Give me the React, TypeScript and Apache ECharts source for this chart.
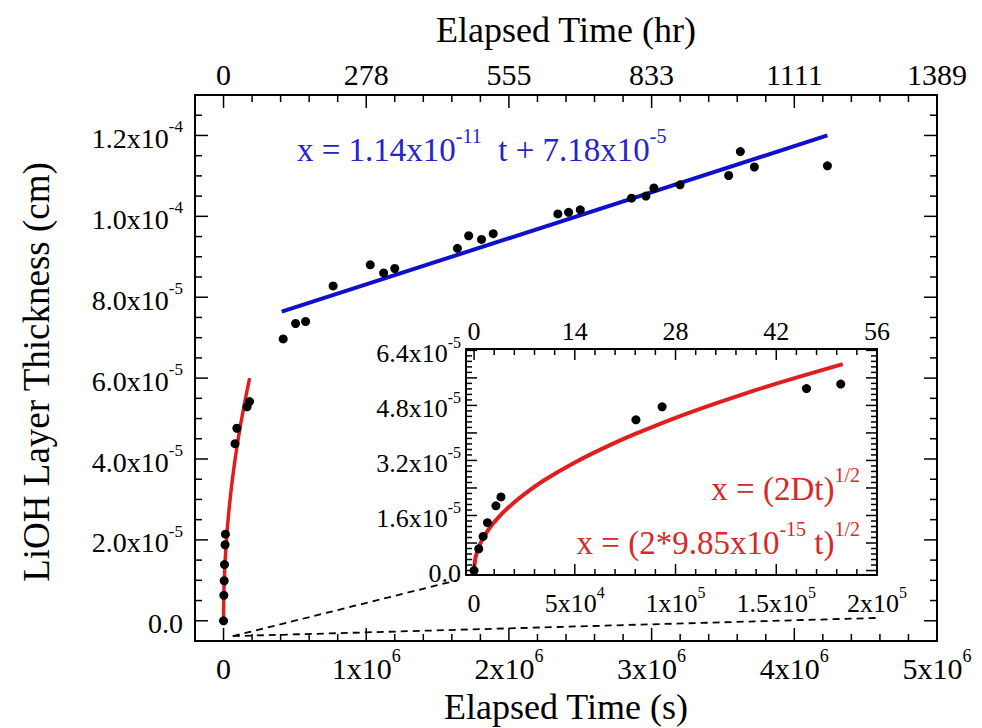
import React, { useEffect, useRef } from 'react';
import * as echarts from 'echarts';

// ---------- data ----------
// early-stage measurements (time in s, thickness in cm) – shown in main plot and inset
const earlyTime = [0, 2350, 4500, 6650, 10850, 13350, 80350, 93350, 165000, 182000];
const earlyThick = [0, 0.63e-5, 0.99e-5, 1.39e-5, 1.88e-5, 2.14e-5, 4.38e-5, 4.76e-5, 5.29e-5, 5.42e-5];
// later measurements
const lateTime = [0.418e6, 0.505e6, 0.575e6, 0.768e6, 1.028e6, 1.122e6, 1.2e6, 1.639e6, 1.718e6, 1.808e6, 1.89e6,
  2.343e6, 2.418e6, 2.5e6, 2.859e6, 2.96e6, 3.016e6, 3.199e6, 3.54e6, 3.622e6, 3.72e6, 4.232e6];
const lateThick = [6.97e-5, 7.35e-5, 7.40e-5, 8.28e-5, 8.80e-5, 8.60e-5, 8.71e-5, 9.21e-5, 9.52e-5, 9.43e-5, 9.57e-5,
  10.06e-5, 10.10e-5, 10.16e-5, 10.45e-5, 10.50e-5, 10.70e-5, 10.78e-5, 11.01e-5, 11.60e-5, 11.22e-5, 11.25e-5];
// parabolic (diffusion) fit curve
const fitTime = [0, 500, 1500, 3000, 5000, 8000, 12000, 17000, 25000, 35000, 50000, 65000, 80000, 100000, 120000, 140000, 160000, 183000];
const fitThick = [0, 0.31e-5, 0.54e-5, 0.77e-5, 0.99e-5, 1.26e-5, 1.54e-5, 1.83e-5, 2.22e-5, 2.63e-5, 3.14e-5, 3.58e-5,
  3.97e-5, 4.44e-5, 4.86e-5, 5.25e-5, 5.61e-5, 6.0e-5];
// linear fit
const linTime = [408000, 4232000];
const linThick = [7.645e-5, 12.0e-5];
// dashed zoom-indicator lines (main-plot coordinates)
const zoomATime = [65000, 1636000];
const zoomAThick = [-0.38e-5, 1.0e-5];
const zoomBTime = [65000, 4580000];
const zoomBThick = [-0.38e-5, 0.07e-5];

// ---------- ticks ----------
const mainXMajor = [0, 1e6, 2e6, 3e6, 4e6, 5e6];
const mainXLabels = ['0', '1x10^6', '2x10^6', '3x10^6', '4x10^6', '5x10^6'];
const mainXTopLabels = ['0', '278', '555', '833', '1111', '1389'];
const mainYMajor = [0, 2e-5, 4e-5, 6e-5, 8e-5, 1.0e-4, 1.2e-4];
const mainYLabels = ['0.0', '2.0x10^-5', '4.0x10^-5', '6.0x10^-5', '8.0x10^-5', '1.0x10^-4', '1.2x10^-4'];
const insetXMajor = [0, 5e4, 1e5, 1.5e5, 2e5];
const insetXLabels = ['0', '5x10^4', '1x10^5', '1.5x10^5', '2x10^5'];
const insetXTopLabels = ['0', '14', '28', '42', '56'];
const insetYMajor = [0, 0.8e-5, 1.6e-5, 2.4e-5, 3.2e-5, 4.0e-5, 4.8e-5, 5.6e-5, 6.4e-5];
const insetYLabelVals = [0, 1.6e-5, 3.2e-5, 4.8e-5, 6.4e-5];
const insetYLabels = ['0.0', '1.6x10^-5', '3.2x10^-5', '4.8x10^-5', '6.4x10^-5'];

const FONT = '"Liberation Serif", "DejaVu Serif", "Times New Roman", serif';

function minorTicks(start: number, end: number, step: number, majors: number[]) {
  const out: number[] = [];
  const n = Math.round((end - start) / step);
  for (let k = 0; k <= n; k++) {
    const v = start + k * step;
    if (!majors.some((m) => Math.abs(m - v) < step * 1e-3)) out.push(v);
  }
  return out;
}

function toRich(s: string) {
  const i = s.indexOf('^');
  if (i < 0) return `{b|${s}}`;
  return `{b|${s.slice(0, i)}}{s|${s.slice(i + 1)}}`;
}

function labelFor(vals: number[], labels: string[], v: number, rich: boolean) {
  let best = 0;
  for (let i = 1; i < vals.length; i++) if (Math.abs(vals[i] - v) < Math.abs(vals[best] - v)) best = i;
  return rich ? toRich(labels[best]) : labels[best];
}

function makeRich(size: number, supSize: number) {
  return {
    b: { fontSize: size, fontFamily: FONT, color: '#000', lineHeight: size + 6, verticalAlign: 'bottom' },
    s: { fontSize: supSize, fontFamily: FONT, color: '#000', lineHeight: supSize, verticalAlign: 'top' },
  };
}

type AxOpts = {
  grid: number; pos: string; min: number; max: number; z: number;
  labels?: { vals: number[]; texts: string[]; rich: boolean; size: number; sup: number; margin: number };
};

function axis(o: AxOpts) {
  const a: any = {
    type: 'value', gridIndex: o.grid, position: o.pos, min: o.min, max: o.max,
    splitLine: { show: false },
    axisLine: { show: true, onZero: false, lineStyle: { color: '#000', width: 2 } },
    axisTick: { show: false },
    axisLabel: { show: false },
    z: o.z,
  };
  if (o.labels) {
    const L = o.labels;
    a.axisLabel = {
      show: true, customValues: L.vals, margin: L.margin, color: '#000',
      fontFamily: FONT, fontSize: L.size,
      formatter: (v: number) => labelFor(L.vals, L.texts, v, L.rich),
      rich: makeRich(L.size, L.sup),
    };
  }
  return a;
}

const zip = (a: number[], b: number[]) => a.map((v, i) => [v, b[i]]);

export default function App() {
  const ref = useRef<HTMLDivElement>(null);
  useEffect(() => {
    document.body.style.margin = '0';
    const chart = echarts.init(ref.current!, null, { renderer: 'svg' });

    const MX = [-2e5, 5e6];
    const MY = [-0.5e-5, 1.3e-4];
    const IX = [-4000, 2e5];
    const IY = [-0.13e-5, 6.44e-5];
    const mxMinor = minorTicks(-2e5, 5e6, 2e5, mainXMajor);
    const myMinor = minorTicks(-0.5e-5, 1.3e-4, 0.5e-5, mainYMajor);
    const ixMinor = minorTicks(0, 2e5, 1e4, insetXMajor);
    const iyMinor = minorTicks(0, 6.4e-5, 0.16e-5, insetYMajor);

    const xAxes = [
      axis({ grid: 0, pos: 'bottom', min: MX[0], max: MX[1], z: 1,
        labels: { vals: mainXMajor, texts: mainXLabels, rich: true, size: 30, sup: 18, margin: 6 } }),
      axis({ grid: 0, pos: 'top', min: MX[0], max: MX[1], z: 1,
        labels: { vals: mainXMajor, texts: mainXTopLabels, rich: false, size: 30, sup: 18, margin: 6 } }),
      axis({ grid: 1, pos: 'bottom', min: IX[0], max: IX[1], z: 6,
        labels: { vals: insetXMajor, texts: insetXLabels, rich: true, size: 26, sup: 16, margin: 9 } }),
      axis({ grid: 1, pos: 'top', min: IX[0], max: IX[1], z: 6,
        labels: { vals: insetXMajor, texts: insetXTopLabels, rich: false, size: 26, sup: 16, margin: 5 } }),
    ];
    const yAxes = [
      axis({ grid: 0, pos: 'left', min: MY[0], max: MY[1], z: 1,
        labels: { vals: mainYMajor, texts: mainYLabels, rich: true, size: 28, sup: 17, margin: 12 } }),
      axis({ grid: 0, pos: 'right', min: MY[0], max: MY[1], z: 1 }),
      axis({ grid: 1, pos: 'left', min: IY[0], max: IY[1], z: 6,
        labels: { vals: insetYLabelVals, texts: insetYLabels, rich: true, size: 26, sup: 16, margin: 5 } }),
      axis({ grid: 1, pos: 'right', min: IY[0], max: IY[1], z: 6 }),
    ];

    const red = '#e01e1e';
    const blue = '#1010cc';
    const dot = { symbol: 'circle', symbolSize: 9, itemStyle: { color: '#000', opacity: 1 } };

    const eqRich = (size: number, sup: number, color: string) => ({
      b: { fontSize: size, fontFamily: FONT, fill: color, lineHeight: size + 8, verticalAlign: 'bottom' },
      s: { fontSize: sup, fontFamily: FONT, fill: color, lineHeight: sup, verticalAlign: 'top' },
    });

    const texts: any[] = [
      { type: 'text', x: 566, y: 30, style: { text: 'Elapsed Time (hr)', font: `36px ${FONT}`, fill: '#000', textAlign: 'center', textVerticalAlign: 'middle' } },
      { type: 'text', x: 566, y: 707, style: { text: 'Elapsed Time (s)', font: `36px ${FONT}`, fill: '#000', textAlign: 'center', textVerticalAlign: 'middle' } },
      { type: 'text', x: 36, y: 372, rotation: Math.PI / 2, style: { text: 'LiOH Layer Thickness (cm)', font: `37px ${FONT}`, fill: '#000', textAlign: 'center', textVerticalAlign: 'middle' } },
      { type: 'text', x: 297, y: 146, z: 10, style: { text: '{b|x = 1.14x10}{s|-11}{b|  t + 7.18x10}{s|-5}', rich: eqRich(33, 20, '#2424cc'), textAlign: 'left', textVerticalAlign: 'middle' } },
      { type: 'text', x: 860, y: 485, z: 10, style: { text: '{b|x = (2Dt)}{s|1/2}', rich: eqRich(33, 20, '#d82828'), textAlign: 'right', textVerticalAlign: 'middle' } },
      { type: 'text', x: 860, y: 539, z: 10, style: { text: '{b|x = (2*9.85x10}{s|-15}{b| t)}{s|1/2}', rich: eqRich(33, 20, '#d82828'), textAlign: 'right', textVerticalAlign: 'middle' } },
    ];

    chart.setOption({
      animation: false,
      backgroundColor: '#fff',
      grid: [
        { left: 195, top: 95, width: 742, height: 546, show: false },
        { left: 466, top: 349, width: 411, height: 226, show: true, borderWidth: 0, borderColor: 'transparent', backgroundColor: '#fff', z: 3 },
      ],
      xAxis: xAxes,
      yAxis: yAxes,
      series: [
        { type: 'line', xAxisIndex: 0, yAxisIndex: 0, data: zip(zoomATime, zoomAThick), symbol: 'none',
          lineStyle: { color: '#000', width: 1.8, type: [7, 5] }, z: 2 },
        { type: 'line', xAxisIndex: 0, yAxisIndex: 0, data: zip(zoomBTime, zoomBThick), symbol: 'none',
          lineStyle: { color: '#000', width: 1.8, type: [7, 5] }, z: 2 },
        { type: 'line', xAxisIndex: 0, yAxisIndex: 0, data: zip(fitTime, fitThick), symbol: 'none',
          lineStyle: { color: red, width: 3.5 }, z: 3 },
        { type: 'line', xAxisIndex: 0, yAxisIndex: 0, data: zip(linTime, linThick), symbol: 'none',
          lineStyle: { color: blue, width: 4 }, z: 3 },
        { type: 'scatter', xAxisIndex: 0, yAxisIndex: 0, data: zip(earlyTime, earlyThick).concat(zip(lateTime, lateThick)), ...dot, z: 4 },
        { type: 'line', xAxisIndex: 2, yAxisIndex: 2, data: zip(fitTime, fitThick), symbol: 'none', smooth: 0.2,
          lineStyle: { color: red, width: 4 }, z: 7 },
        { type: 'scatter', xAxisIndex: 2, yAxisIndex: 2, data: zip(earlyTime, earlyThick), ...dot, z: 8 },
      ],
      graphic: texts,
    });

    // tick marks placed through the axes' own scales (convertToPixel)
    const tickLines: any[] = [];
    try {
      const px = (xi: number, yi: number, x: number, y: number) =>
        chart.convertToPixel({ xAxisIndex: xi, yAxisIndex: yi } as any, [x, y]) as unknown as number[];
      const addX = (xi: number, yi: number, vals: number[], yEdge: number, len: number) => {
        vals.forEach((v) => {
          const p = px(xi, yi, v, yEdge);
          if (p && isFinite(p[0]) && isFinite(p[1])) tickLines.push({ type: 'line', silent: true, z: 20,
            shape: { x1: p[0], y1: p[1], x2: p[0], y2: p[1] + len }, style: { stroke: '#000', lineWidth: 1.5 } });
        });
      };
      const addY = (xi: number, yi: number, vals: number[], xEdge: number, len: number) => {
        vals.forEach((v) => {
          const p = px(xi, yi, xEdge, v);
          if (p && isFinite(p[0]) && isFinite(p[1])) tickLines.push({ type: 'line', silent: true, z: 20,
            shape: { x1: p[0], y1: p[1], x2: p[0] + len, y2: p[1] }, style: { stroke: '#000', lineWidth: 1.5 } });
        });
      };
      addX(0, 0, mainXMajor, MY[0], -13); addX(0, 0, mxMinor, MY[0], -7);
      addX(0, 0, mainXMajor, MY[1], 13); addX(0, 0, mxMinor, MY[1], 7);
      addY(0, 0, mainYMajor, MX[0], 13); addY(0, 0, myMinor, MX[0], 7);
      addY(0, 0, mainYMajor, MX[1], -13); addY(0, 0, myMinor, MX[1], -7);
      addX(2, 2, insetXMajor, IY[0], -11); addX(2, 2, ixMinor, IY[0], -6);
      addX(2, 2, insetXMajor, IY[1], 11); addX(2, 2, ixMinor, IY[1], 6);
      addY(2, 2, insetYMajor, IX[0], 11); addY(2, 2, iyMinor, IX[0], 6);
      addY(2, 2, insetYMajor, IX[1], -11); addY(2, 2, iyMinor, IX[1], -6);
    } catch (e) { /* keep chart without ticks */ }
    if (tickLines.length) chart.setOption({ graphic: texts.concat(tickLines) });

    return () => chart.dispose();
  }, []);
  return <div ref={ref} style={{ width: 982, height: 728 }} />;
}
